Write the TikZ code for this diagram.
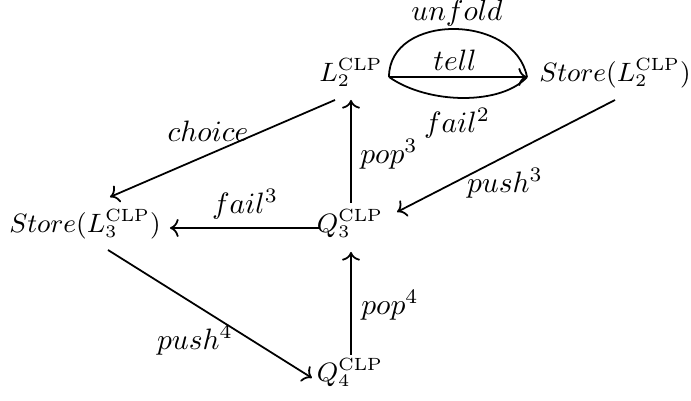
\documentclass[tikz,border=0pt]{standalone}
\usepackage{fix-cm}
\usetikzlibrary{arrows.meta,calc}
\begin{document}
\begin{tikzpicture}[x={(0.339pt,0)},y={(0,-0.339pt)},
  obj/.style={anchor=base, inner sep=3pt, font=\small},
  lbl/.style={inner sep=0pt},
  arr/.style={-{Computer Modern Rightarrow}, line width=0.6pt},
  arc/.style={line width=0.6pt}]
\useasboundingbox (0,0) rectangle (691,401);
% objects
\node[obj] (l2) at (351,82) {$L_2^{\mathrm{CLP}}$};
\node[obj] (s2) at (615,82) {$Store(L_2^{\mathrm{CLP}})$};
\node[obj] (q3) at (350,233) {$Q_3^{\mathrm{CLP}}$};
\node[obj] (s3) at (85,233) {$Store(L_3^{\mathrm{CLP}})$};
\node[obj] (q4) at (350,382) {$Q_4^{\mathrm{CLP}}$};
% tell / unfold / fail^2
\coordinate (ts) at ($(l2.base)+(38,-5)$);
\coordinate (te) at ($(l2.base)+(176,-5)$);
\draw[arr] (ts) -- (te);
\draw[arc] (ts) .. controls ($(ts)+(0,-64)$) and ($(te)+(-12,-64)$) .. (te);
\draw[arc] (ts) .. controls ($(ts)+(40,28)$) and ($(te)+(-25,28)$) .. (te);
% pops
\draw[arr] ($(q3.base)+(1,-30)$) -- ($(l2.base)+(0,18)$);
\draw[arr] ($(q4.base)+(1,-27)$) -- ($(q3.base)+(1,19)$);
% fail3
\draw[arr] ($(q3.base)+(-30,-5)$) -- ($(s3.base)+(85,-5)$);
% choice
\draw[arr] ($(l2.base)+(-16,18)$) -- ($(s3.base)+(25,-36)$);
% push3
\draw[arr] ($(s2.base)+(0,18)$) -- ($(q3.base)+(47,-21)$);
% push4
\draw[arr] ($(s3.base)+(23,17)$) -- ($(q4.base)+(-38,-4)$);
% labels
\node[lbl] (lunfold) at (457,13) {$unfold$};
\node[lbl] (ltell) at (455,60) {$tell$};
\node[lbl] (lfail2) at (457,123) {$fail^2$};
\node[lbl] (lchoice) at (208,131) {$choice$};
\node[lbl] (lpop3) at (389,154) {$pop^3$};
\node[lbl] (lpush3) at (505,183) {$push^3$};
\node[lbl] (lfail3) at (245,204) {$fail^3$};
\node[lbl] (lpop4) at (390,305) {$pop^4$};
\node[lbl] (lpush4) at (195,340) {$push^4$};
\end{tikzpicture}
\end{document}
